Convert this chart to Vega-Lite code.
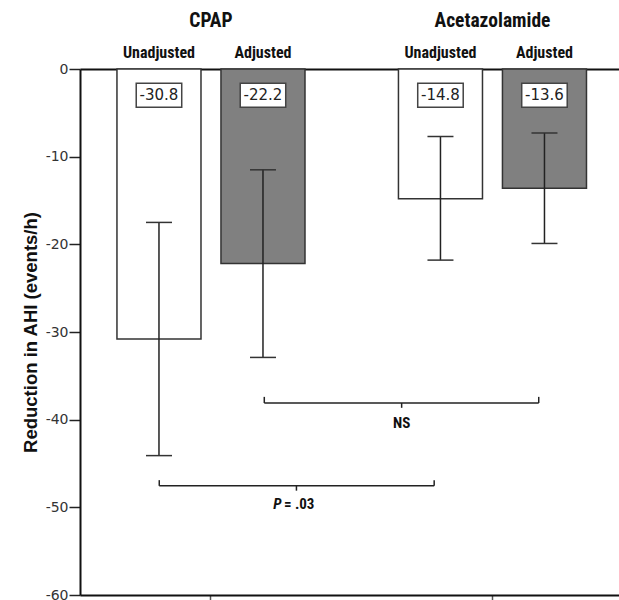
{
  "$schema": "https://vega.github.io/schema/vega-lite/v6.json",
  "autosize": "none",
  "padding": {"left": 80, "top": 69, "right": 0, "bottom": 5},
  "width": 539,
  "height": 526,
  "background": "white",
  "config": {
    "view": {"stroke": null},
    "font": "DejaVu Sans",
    "locale": {"number": {"decimal": ".", "thousands": ",", "grouping": [3], "currency": ["$", ""], "minus": "-"}}
  },
  "datasets": {
    "bars": [
      {"drug": "CPAP", "adj": "Unadjusted", "value": -30.8, "lo": -44.1, "hi": -17.5},
      {"drug": "CPAP", "adj": "Adjusted", "value": -22.2, "lo": -32.9, "hi": -11.5},
      {"drug": "Acetazolamide", "adj": "Unadjusted", "value": -14.8, "lo": -21.8, "hi": -7.7},
      {"drug": "Acetazolamide", "adj": "Adjusted", "value": -13.6, "lo": -19.9, "hi": -7.3}
    ],
    "brackets": [
      {"label": "P = .03", "lead": "P", "tail": "= .03", "from": "CPAP", "to": "Acetazolamide", "adj": "Unadjusted", "y": -47.55, "yEnd": -46.9, "yMid": -48.1, "yText": -49.6},
      {"label": "NS", "lead": "", "tail": "NS", "from": "CPAP", "to": "Acetazolamide", "adj": "Adjusted", "y": -38.1, "yEnd": -37.4, "yMid": -38.65, "yText": -40.4}
    ]
  },
  "resolve": {"axis": {"x": "independent"}},
  "layer": [
    {
      "data": {"name": "bars"},
      "mark": {"type": "bar", "stroke": "#333333", "strokeWidth": 1.5},
      "encoding": {
        "x": {
          "field": "drug", "type": "nominal", "sort": ["CPAP", "Acetazolamide"],
          "scale": {"domain": ["CPAP", "Acetazolamide"], "paddingInner": 0.332, "paddingOuter": 0.1234, "align": 0.532},
          "axis": {
            "orient": "top", "title": null, "ticks": false, "tickSize": 0, "labelAngle": 0,
            "labelPadding": 39, "labelFontSize": 19.5, "labelFontWeight": "bold",
            "labelFont": "Liberation Sans Narrow, Roboto Condensed, DejaVu Sans Condensed, sans-serif",
            "labelColor": "#111111", "domainWidth": 2, "domainColor": "#111111"
          }
        },
        "xOffset": {
          "field": "adj", "type": "nominal", "sort": ["Unadjusted", "Adjusted"],
          "scale": {"domain": ["Unadjusted", "Adjusted"], "paddingInner": 0.192, "paddingOuter": 0}
        },
        "y": {
          "field": "value", "type": "quantitative",
          "scale": {"domain": [-60, 0], "nice": false},
          "axis": {
            "title": "Reduction in AHI (events/h)", "values": [-60, -50, -40, -30, -20, -10, 0],
            "format": "d", "grid": false, "labelFontSize": 14, "labelFont": "DejaVu Sans", "labelColor": "#333333",
            "labelPadding": 1, "tickSize": 11, "tickWidth": 1.5, "tickColor": "#222222",
            "domainWidth": 2, "domainColor": "#111111",
            "titleFont": "Liberation Sans, Arial, sans-serif",
            "titleFontSize": 18.5, "titleFontWeight": "bold", "titleColor": "#111111", "titlePadding": 5
          }
        },
        "y2": {"datum": 0},
        "fill": {
          "field": "adj", "type": "nominal",
          "scale": {"domain": ["Unadjusted", "Adjusted"], "range": ["#ffffff", "#808080"]},
          "legend": null
        }
      }
    },
    {
      "data": {"name": "bars"},
      "mark": {"type": "rule", "color": "#222222", "strokeWidth": 1.5},
      "encoding": {
        "x": {
          "field": "drug", "type": "nominal",
          "axis": {"orient": "bottom", "title": null, "labels": false, "ticks": true, "tickSize": 6, "tickWidth": 1.5, "tickColor": "#555555", "domainWidth": 2, "domainColor": "#111111", "grid": false}
        },
        "xOffset": {"field": "adj", "type": "nominal"},
        "y": {"field": "lo", "type": "quantitative"},
        "y2": {"field": "hi"}
      }
    },
    {
      "data": {"name": "bars"},
      "mark": {"type": "tick", "orient": "horizontal", "size": 26, "thickness": 1.5, "color": "#333333", "opacity": 1},
      "encoding": {
        "x": {"field": "drug", "type": "nominal", "axis": null},
        "xOffset": {"field": "adj", "type": "nominal"},
        "y": {"field": "lo", "type": "quantitative"}
      }
    },
    {
      "data": {"name": "bars"},
      "mark": {"type": "tick", "orient": "horizontal", "size": 26, "thickness": 1.5, "color": "#333333", "opacity": 1},
      "encoding": {
        "x": {"field": "drug", "type": "nominal", "axis": null},
        "xOffset": {"field": "adj", "type": "nominal"},
        "y": {"field": "hi", "type": "quantitative"}
      }
    },
    {
      "data": {"name": "bars"},
      "mark": {"type": "point", "shape": "M-1,-0.53H1V0.53H-1Z", "size": 2070, "filled": true, "fill": "#ffffff", "stroke": "#444444", "strokeWidth": 1.5, "opacity": 1},
      "encoding": {
        "x": {"field": "drug", "type": "nominal", "axis": null},
        "xOffset": {"field": "adj", "type": "nominal"},
        "y": {"datum": -3}
      }
    },
    {
      "data": {"name": "bars"},
      "mark": {"type": "text", "font": "DejaVu Sans", "fontSize": 15, "color": "#222222", "baseline": "middle", "align": "center"},
      "encoding": {
        "x": {"field": "drug", "type": "nominal", "axis": null},
        "xOffset": {"field": "adj", "type": "nominal"},
        "y": {"datum": -3},
        "text": {"field": "value", "type": "quantitative", "format": ".1f"}
      }
    },
    {
      "data": {"name": "bars"},
      "mark": {"type": "text", "font": "Liberation Sans Narrow, Roboto Condensed, DejaVu Sans Condensed, sans-serif", "fontSize": 16, "fontWeight": "bold", "color": "#111111", "baseline": "alphabetic", "align": "center", "dy": -11},
      "encoding": {
        "x": {"field": "drug", "type": "nominal", "axis": null},
        "xOffset": {"field": "adj", "type": "nominal"},
        "y": {"datum": 0},
        "text": {"field": "adj", "type": "nominal"}
      }
    },
    {
      "data": {"name": "brackets"},
      "transform": [{"filter": "datum.adj === 'Unadjusted'"}],
      "layer": [
        {
          "mark": {"type": "rule", "color": "#222222", "strokeWidth": 1.5},
          "encoding": {
            "x": {"field": "from", "type": "nominal", "axis": null, "bandPosition": 0.225},
            "x2": {"field": "to", "bandPosition": 0.19},
            "y": {"field": "y", "type": "quantitative"}
          }
        },
        {
          "mark": {"type": "rule", "color": "#222222", "strokeWidth": 1.5},
          "encoding": {
            "x": {"field": "from", "type": "nominal", "axis": null, "bandPosition": 0.225},
            "y": {"field": "y", "type": "quantitative"},
            "y2": {"field": "yEnd"}
          }
        },
        {
          "mark": {"type": "rule", "color": "#222222", "strokeWidth": 1.5},
          "encoding": {
            "x": {"field": "to", "type": "nominal", "axis": null, "bandPosition": 0.19},
            "y": {"field": "y", "type": "quantitative"},
            "y2": {"field": "yEnd"}
          }
        },
        {
          "mark": {"type": "rule", "color": "#222222", "strokeWidth": 1.5},
          "encoding": {
            "x": {"field": "from", "type": "nominal", "axis": null, "bandPosition": 0.9545},
            "y": {"field": "y", "type": "quantitative"},
            "y2": {"field": "yMid"}
          }
        },
        {
          "mark": {"type": "text", "font": "Liberation Sans Narrow, Roboto Condensed, DejaVu Sans Condensed, sans-serif", "fontSize": 15, "fontWeight": "bold", "fontStyle": "italic", "color": "#111111", "baseline": "middle", "align": "right"},
          "encoding": {
            "x": {"field": "from", "type": "nominal", "axis": null, "bandPosition": 0.875},
            "y": {"field": "yText", "type": "quantitative"},
            "text": {"field": "lead", "type": "nominal"}
          }
        },
        {
          "mark": {"type": "text", "font": "Liberation Sans Narrow, Roboto Condensed, DejaVu Sans Condensed, sans-serif", "fontSize": 15, "fontWeight": "bold", "color": "#111111", "baseline": "middle", "align": "left"},
          "encoding": {
            "x": {"field": "from", "type": "nominal", "axis": null, "bandPosition": 0.888},
            "y": {"field": "yText", "type": "quantitative"},
            "text": {"field": "tail", "type": "nominal"}
          }
        }
      ]
    },
    {
      "data": {"name": "brackets"},
      "transform": [{"filter": "datum.adj === 'Adjusted'"}],
      "layer": [
        {
          "mark": {"type": "rule", "color": "#222222", "strokeWidth": 1.5},
          "encoding": {
            "x": {"field": "from", "type": "nominal", "axis": null, "bandPosition": 0.7835},
            "x2": {"field": "to", "bandPosition": 0.746},
            "y": {"field": "y", "type": "quantitative"}
          }
        },
        {
          "mark": {"type": "rule", "color": "#222222", "strokeWidth": 1.5},
          "encoding": {
            "x": {"field": "from", "type": "nominal", "axis": null, "bandPosition": 0.7835},
            "y": {"field": "y", "type": "quantitative"},
            "y2": {"field": "yEnd"}
          }
        },
        {
          "mark": {"type": "rule", "color": "#222222", "strokeWidth": 1.5},
          "encoding": {
            "x": {"field": "to", "type": "nominal", "axis": null, "bandPosition": 0.746},
            "y": {"field": "y", "type": "quantitative"},
            "y2": {"field": "yEnd"}
          }
        },
        {
          "mark": {"type": "rule", "color": "#222222", "strokeWidth": 1.5},
          "encoding": {
            "x": {"field": "from", "type": "nominal", "axis": null, "bandPosition": 1.514},
            "y": {"field": "y", "type": "quantitative"},
            "y2": {"field": "yMid"}
          }
        },
        {
          "mark": {"type": "text", "font": "Liberation Sans Narrow, Roboto Condensed, DejaVu Sans Condensed, sans-serif", "fontSize": 15, "fontWeight": "bold", "color": "#111111", "baseline": "middle", "align": "center"},
          "encoding": {
            "x": {"field": "from", "type": "nominal", "axis": null, "bandPosition": 1.514},
            "y": {"field": "yText", "type": "quantitative"},
            "text": {"field": "tail", "type": "nominal"}
          }
        }
      ]
    }
  ]
}
